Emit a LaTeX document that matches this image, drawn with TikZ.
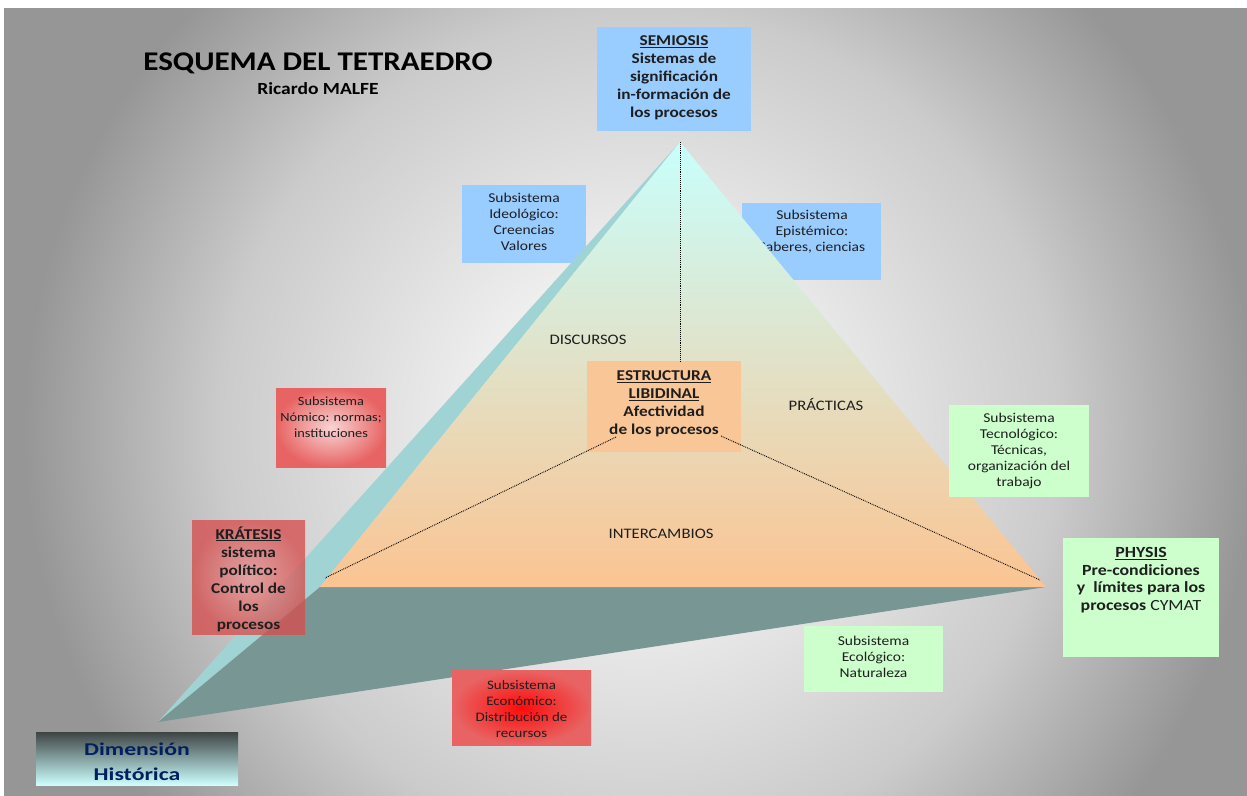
\documentclass[tikz,border=0pt]{standalone}
\usepackage{fontspec}
\setmainfont{Carlito}[FakeStretch=1.15]
\newfontfamily\histfont{Carlito}[FakeStretch=1.32]
\usetikzlibrary{calc}
\definecolor{bgA}{RGB}{238,238,238}
\definecolor{bgB}{RGB}{203,203,203}
\definecolor{bgC}{RGB}{150,150,150}
\definecolor{boxblue}{RGB}{153,204,255}
\definecolor{boxgreen}{RGB}{204,255,204}
\definecolor{boxpeach}{RGB}{249,198,152}
\definecolor{facetop}{RGB}{200,255,252}
\definecolor{facemid}{RGB}{232,236,210}
\definecolor{facebot}{RGB}{251,196,146}
\definecolor{sliver}{RGB}{160,212,212}
\definecolor{darkface}{RGB}{120,150,148}
\definecolor{redout}{RGB}{232,100,100}
\definecolor{redin}{RGB}{255,10,10}
\definecolor{pinkin}{RGB}{248,212,212}
\definecolor{kraout}{RGB}{214,78,78}
\definecolor{krain}{RGB}{232,150,150}
\definecolor{navy}{RGB}{0,32,96}
\definecolor{histtop}{RGB}{62,68,68}
\definecolor{histmid}{RGB}{140,188,188}
\definecolor{histbot}{RGB}{205,255,255}
\definecolor{txt}{RGB}{30,30,30}
\pgfdeclareradialshading{bgshade}{\pgfpoint{0bp}{0bp}}{color(0bp)=(bgA); color(6bp)=(bgA); color(15bp)=(bgB); color(22bp)=(bgC); color(50bp)=(bgC)}
\tikzset{
  boxnode/.style={rectangle, inner sep=0pt, draw=none},
  lbl/.style={align=center, inner sep=0pt, text=txt},
  smalltxt/.style={lbl, font=\fontsize{13.5}{16}\selectfont},
  boldtxt/.style={lbl, font=\bfseries\fontsize{15}{18}\selectfont},
  facelbl/.style={lbl, font=\fontsize{14.5}{17}\selectfont},
  dots/.style={densely dotted, line width=0.9pt, black},
}
\begin{document}
\begin{tikzpicture}[x=1pt,y=-1pt]
\useasboundingbox (0,0) rectangle (1247,795);
\fill[white] (0,0) rectangle (1247,795);
\begin{scope}
  \clip (4,8) rectangle (1247,795);
  \shade[shading=bgshade] (-60,-270) rectangle (1340,1130);
\end{scope}

% title
\node[lbl, font=\bfseries\fontsize{27}{30}\selectfont, text=black] (title) at (318,63) {ESQUEMA DEL TETRAEDRO};
\node[lbl, font=\bfseries\fontsize{17}{20}\selectfont, text=black] (author) at (318,89) {Ricardo MALFE};

% semiosis
\node[boxnode, fill=boxblue, minimum width=154pt, minimum height=104pt] (sem) at (674,79) {};
\node[boldtxt] (semt) at (674,78) {\underline{SEMIOSIS}\\Sistemas de\\significación\\in-formación de\\los procesos};

% boxes behind pyramid
\node[boxnode, fill=boxblue, minimum width=124pt, minimum height=78pt] (ideo) at (524,224) {};
\node[smalltxt] (ideot) at (524,222) {Subsistema\\Ideológico:\\Creencias\\Valores};
\node[boxnode, fill=boxblue, minimum width=139pt, minimum height=77pt] (epi) at (811.5,241.5) {};
\node[smalltxt] (epit) at (812,232) {Subsistema\\Epistémico:\\Saberes, ciencias};

% pyramid
\coordinate (A) at (680,142);
\coordinate (L) at (320,587);
\coordinate (R) at (1046,587);
\coordinate (B) at (158,722);
\fill[sliver] (A) -- (B) -- (L) -- cycle;
\fill[darkface] (L) -- (R) -- (B) -- cycle;
\shade[top color=facetop, middle color=facemid, bottom color=facebot] (A) -- (L) -- (R) -- cycle;

% labels on faces
\node[facelbl] (disc) at (588,340) {DISCURSOS};
\node[facelbl] (prac) at (826,404) {PRÁCTICAS};
\node[facelbl] (inter) at (661,534) {INTERCAMBIOS};

% libidinal
\node[boxnode, fill=boxpeach, minimum width=154pt, minimum height=91pt] (lib) at (664,406.5) {};
\node[boldtxt] (libt) at (664,404) {\underline{ESTRUCTURA}\\\underline{LIBIDINAL}\\Afectividad\\de los procesos};

% dotted edges
\coordinate (ltop) at (680,361);
\coordinate (lleft) at (616,437);
\coordinate (lright) at (721,436);
\coordinate (Lin) at (325,578);
\coordinate (Rin) at (1040,580);
\draw[dots] (A) -- (ltop);
\draw[dots] (lleft) -- (Lin);
\draw[dots] (lright) -- (Rin);

% red boxes
\node[boxnode, inner color=pinkin, outer color=redout, minimum width=110pt, minimum height=79pt] (nom) at (331,427.5) {};
\node[lbl, font=\fontsize{12.5}{16}\selectfont] (nomt) at (331,417.5) {Subsistema\\Nómico: normas;\\instituciones};
\node[boxnode, inner color=krain, outer color=kraout, fill opacity=0.78, minimum width=113pt, minimum height=114pt] (kra) at (248.5,577) {};
\node[boldtxt] (krat) at (248.5,579) {\underline{KRÁTESIS}\\sistema\\político:\\Control de\\los\\procesos};
\node[boxnode, inner color=redin, outer color=redout, minimum width=139pt, minimum height=75pt] (econ) at (521.5,707.5) {};
\node[lbl, font=\fontsize{13}{16}\selectfont] (econt) at (521.5,709) {Subsistema\\Económico:\\Distribución de\\recursos};

% green boxes
\node[boxnode, fill=boxgreen, minimum width=140pt, minimum height=92pt] (tec) at (1019,451) {};
\node[smalltxt] (tect) at (1019,451) {Subsistema\\Tecnológico:\\Técnicas,\\organización del\\trabajo};
\node[boxnode, fill=boxgreen, minimum width=156pt, minimum height=119pt] (phy) at (1141,597.5) {};
\node[lbl, font=\bfseries\fontsize{15.5}{17.7}\selectfont] (phyt) at (1141,580) {\underline{PHYSIS}\\Pre-condiciones\\y\ \ límites para los\\procesos {\mdseries CYMAT}};
\node[boxnode, fill=boxgreen, minimum width=139pt, minimum height=66pt] (eco) at (873.5,659) {};
\node[smalltxt] (ecot) at (873.5,657) {Subsistema\\Ecológico:\\Naturaleza};

% historical dimension
\node[boxnode, top color=histtop, middle color=histmid, bottom color=histbot, minimum width=202pt, minimum height=53pt] (hist) at (137,758.5) {};
\node[lbl, text=navy, font=\histfont\bfseries\fontsize{18}{25}\selectfont] (histt) at (137,762) {Dimensión\\Histórica};
\end{tikzpicture}
\end{document}
